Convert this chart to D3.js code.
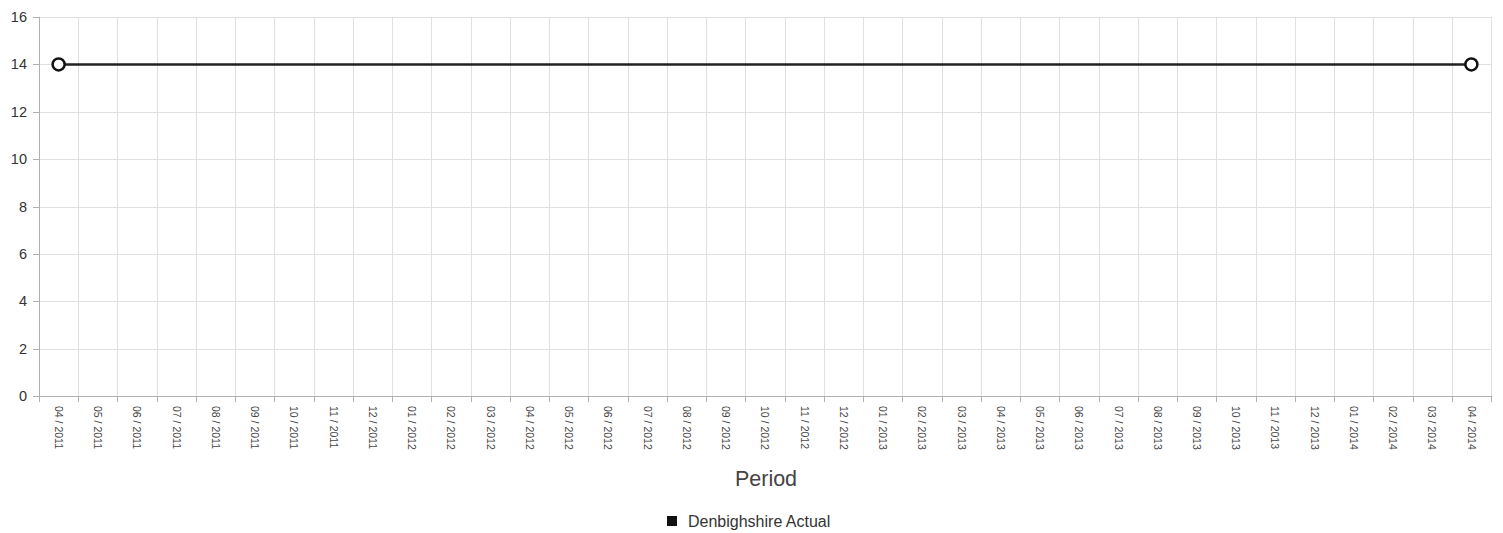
<!DOCTYPE html>
<html><head><meta charset="utf-8">
<script src="https://cdn.jsdelivr.net/npm/d3@7"></script>
<style>
html,body{margin:0;padding:0;background:#fff;}
svg{display:block;font-family:Arial,"Liberation Sans",sans-serif;}
</style></head>
<body>
<svg id="c" width="1503" height="533"></svg>
<script>
const categories = ["04 / 2011","05 / 2011","06 / 2011","07 / 2011","08 / 2011","09 / 2011","10 / 2011","11 / 2011","12 / 2011",
"01 / 2012","02 / 2012","03 / 2012","04 / 2012","05 / 2012","06 / 2012","07 / 2012","08 / 2012","09 / 2012","10 / 2012","11 / 2012","12 / 2012",
"01 / 2013","02 / 2013","03 / 2013","04 / 2013","05 / 2013","06 / 2013","07 / 2013","08 / 2013","09 / 2013","10 / 2013","11 / 2013","12 / 2013",
"01 / 2014","02 / 2014","03 / 2014","04 / 2014"];
const actualValues = [14,null,null,null,null,null,null,null,null,null,null,null,null,null,null,null,null,null,null,null,null,null,null,null,null,null,null,null,null,null,null,null,null,null,null,null,14];
const yTicks = [0,2,4,6,8,10,12,14,16];
const seriesName = "Denbighshire Actual";
const xTitle = "Period";

(function(){
const svg = d3.select("#c");
const pl = 39, pr = 1491, pt = 17, pb = 396;
const x = d3.scaleBand().domain(categories).range([pl, pr]);
const y = d3.scaleLinear().domain([0,16]).range([pb, pt]);

const g = svg.append("g");
g.selectAll(".hg").data(yTicks).join("line")
  .attr("x1", pl-6).attr("x2", pr)
  .attr("y1", d=>Math.round(y(d))+0.5).attr("y2", d=>Math.round(y(d))+0.5)
  .attr("stroke", d=> d===0 ? "#b0b0b0" : "#e0e0e0").attr("stroke-width",1);
const bounds = categories.map(c=>x(c)).concat([pr]);
g.selectAll(".vg").data(bounds).join("line")
  .attr("x1", d=>Math.round(d)+0.5).attr("x2", d=>Math.round(d)+0.5)
  .attr("y1", pt).attr("y2", pb+6)
  .attr("stroke", (d,i)=> i===0 ? "#b0b0b0" : "#e0e0e0").attr("stroke-width",1);
g.append("line").attr("x1",pl+0.5).attr("x2",pl+0.5).attr("y1",pt).attr("y2",pb+0.5).attr("stroke","#b0b0b0");
g.append("line").attr("x1",pl).attr("x2",pr+1).attr("y1",pb+0.5).attr("y2",pb+0.5).attr("stroke","#b0b0b0");
g.selectAll(".xt").data(bounds).join("line")
  .attr("x1", d=>Math.round(d)+0.5).attr("x2", d=>Math.round(d)+0.5)
  .attr("y1", pb).attr("y2", pb+6).attr("stroke","#b0b0b0");
g.selectAll(".yt").data(yTicks).join("line")
  .attr("x1", pl-6).attr("x2", pl)
  .attr("y1", d=>Math.round(y(d))+0.5).attr("y2", d=>Math.round(y(d))+0.5).attr("stroke","#b0b0b0");

svg.append("g").selectAll("text").data(yTicks).join("text")
  .attr("x", 27).attr("y", d=>y(d)).attr("dy","0.35em")
  .attr("text-anchor","end").attr("font-size",14.5).attr("fill","#333")
  .text(d=>d);

svg.append("g").selectAll("text").data(categories).join("text")
  .attr("transform", d=>`translate(${x(d)+x.bandwidth()/2},${pb+10}) rotate(90)`)
  .attr("dy","0.35em").attr("text-anchor","start")
  .attr("font-size",10.5).attr("fill","#444")
  .text(d=>d);

svg.append("text").attr("x",766).attr("y",486)
  .attr("text-anchor","middle").attr("font-size",21.5).attr("fill","#444").text(xTitle);

const pts = categories.map((c,i)=>({c, v:actualValues[i]})).filter(d=>d.v!=null);
const line = d3.line().x(d=>x(d.c)+x.bandwidth()/2).y(d=>y(d.v));
svg.append("path").datum(pts).attr("d",line).attr("fill","none").attr("stroke","#222").attr("stroke-width",2.5);
svg.selectAll(".pt").data(pts).join("circle")
  .attr("cx", d=>x(d.c)+x.bandwidth()/2).attr("cy", d=>y(d.v)).attr("r",6)
  .attr("fill","#fff").attr("stroke","#111").attr("stroke-width",2.5);

const lg = svg.append("g");
lg.append("rect").attr("x",667).attr("y",516).attr("width",10).attr("height",10).attr("fill","#111");
lg.append("text").attr("x",688).attr("y",521.5).attr("dy","0.35em").attr("font-size",16).attr("fill","#333").text(seriesName);
})();
</script>
</body></html>
